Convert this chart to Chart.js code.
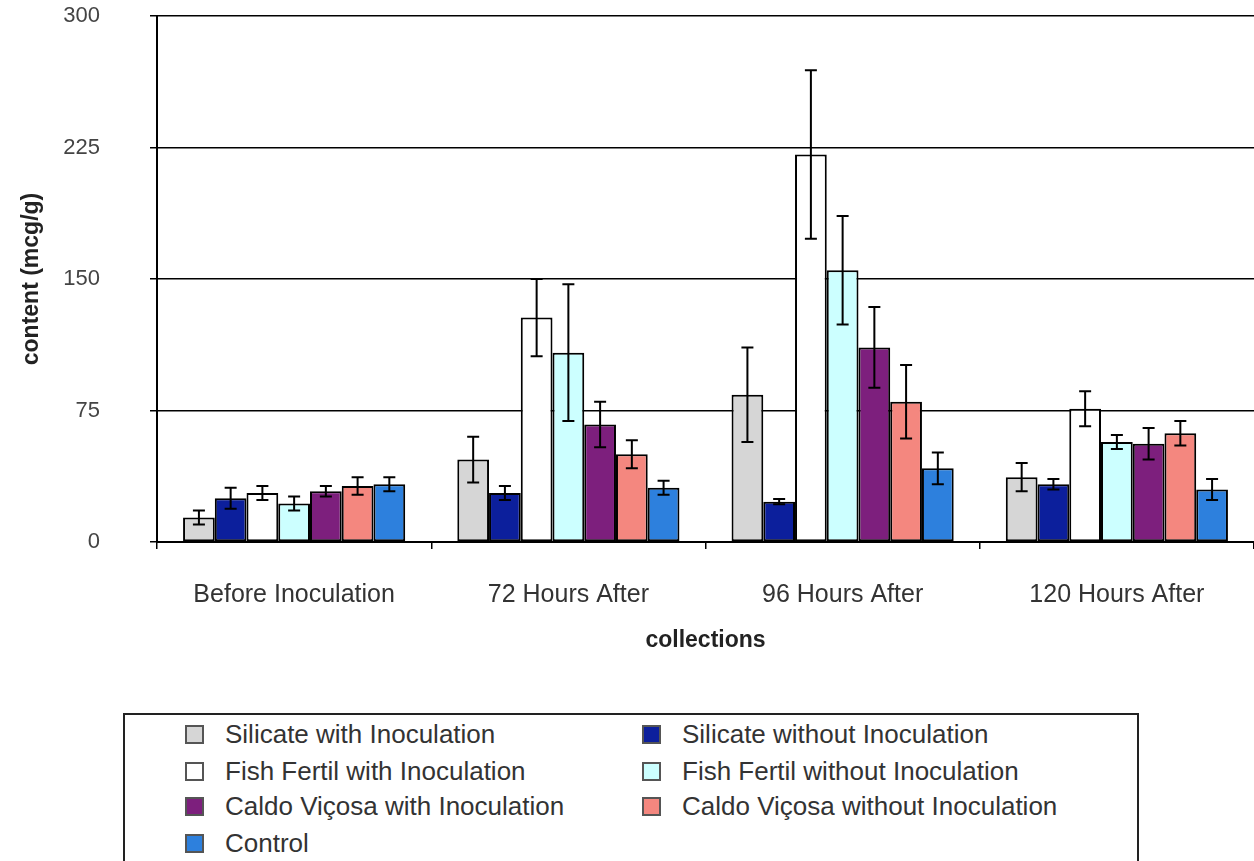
<!DOCTYPE html>
<html>
<head>
<meta charset="utf-8">
<script src="https://cdn.jsdelivr.net/npm/chart.js@4"></script>
<style>
  html, body { margin: 0; padding: 0; background: #fff; }
  body { width: 1254px; height: 861px; position: relative; overflow: hidden; font-family: "Liberation Sans", Arial, sans-serif; }
  #wrap { position: absolute; left: 0; top: 0; width: 1254px; height: 700px; }
  #legend { position: absolute; left: 123px; top: 713px; width: 1012px; height: 170px; border: 2px solid #222; background: #fff; }
  .item { position: absolute; height: 20px; }
  .item span.box { position: absolute; left: 0; top: 0; width: 15px; height: 15px; border: 2px solid #555; }
  .item span.txt { position: absolute; top: -6px; white-space: nowrap; font-size: 26px; color: #333; line-height: 30px; }
</style>
</head>
<body>
<div id="wrap"><canvas id="chart"></canvas></div>
<div id="legend"></div>
<script>
// --- data ---
const collections = ['Before Inoculation', '72 Hours After', '96 Hours After', '120 Hours After'];
const seriesNames = [
    'Silicate with Inoculation', 'Silicate without Inoculation',
    'Fish Fertil with Inoculation', 'Fish Fertil without Inoculation',
    'Caldo Viçosa with Inoculation', 'Caldo Viçosa without Inoculation',
    'Control'
];
const silicateWith = [14, 47, 84, 37];
const silicateWithout = [25, 28, 23, 33];
const fishWith = [28, 128, 221, 76];
const fishWithout = [22, 108, 155, 57];
const caldoWith = [29, 67, 111, 56];
const caldoWithout = [32, 50, 80, 62];
const control = [33, 31, 42, 30];

// standard errors (half length of each bar)
const silicateWithErr = [4, 13, 27, 8];
const silicateWithoutErr = [6, 4, 1.5, 3];
const fishWithErr = [4, 22, 48, 10];
const fishWithoutErr = [4, 39, 31, 4];
const caldoWithErr = [3, 13, 23, 9];
const caldoWithoutErr = [5, 8, 21, 7];
const controlErr = [4, 4, 9, 6];

const yTicks = [0, 75, 150, 225, 300];

const seriesValues = [silicateWith, silicateWithout, fishWith, fishWithout, caldoWith, caldoWithout, control];
const seriesErrors = [silicateWithErr, silicateWithoutErr, fishWithErr, fishWithoutErr, caldoWithErr, caldoWithoutErr, controlErr];
const seriesColors = ['#d6d6d6', '#0c1f9c', '#ffffff', '#ccffff', '#7d1f7d', '#f4877f', '#2d80dd'];

const datasets = seriesNames.map((name, i) => ({
    label: name,
    data: seriesValues[i],
    errors: seriesErrors[i],
    backgroundColor: seriesColors[i],
    borderColor: '#000',
    borderWidth: 2,
    borderSkipped: false
}));

// --- error bars drawn through the y scale ---
const errorBars = {
    id: 'errorBars',
    afterDatasetsDraw(chart) {
        const ctx = chart.ctx;
        const y = chart.scales.y;
        ctx.save();
        ctx.strokeStyle = '#000';
        ctx.lineWidth = 2;
        chart.data.datasets.forEach((ds, i) => {
            const meta = chart.getDatasetMeta(i);
            meta.data.forEach((bar, j) => {
                const v = ds.data[j];
                const e = ds.errors[j];
                const top = y.getPixelForValue(v + e);
                const bottom = y.getPixelForValue(v - e);
                const cap = 6;
                ctx.beginPath();
                ctx.moveTo(bar.x, top);
                ctx.lineTo(bar.x, bottom);
                ctx.moveTo(bar.x - cap, top);
                ctx.lineTo(bar.x + cap, top);
                ctx.moveTo(bar.x - cap, bottom);
                ctx.lineTo(bar.x + cap, bottom);
                ctx.stroke();
            });
        });
        ctx.restore();
    }
};

new Chart(document.getElementById('chart'), {
    type: 'bar',
    data: { labels: collections, datasets: datasets },
    options: {
        responsive: true,
        maintainAspectRatio: false,
        animation: false,
        layout: { padding: { top: 16, right: 0, left: 0, bottom: 0 } },
        datasets: { bar: { categoryPercentage: 0.81, barPercentage: 1.0 } },
        plugins: { legend: { display: false }, tooltip: { enabled: false } },
        scales: {
            x: {
                grid: { drawOnChartArea: false, drawTicks: true, tickLength: 7, color: '#000', lineWidth: 1.5 },
                border: { display: true, color: '#000', width: 2 },
                ticks: { color: '#333', padding: 31, maxRotation: 0, font: { family: 'Liberation Sans', size: 25 } },
                title: { display: true, text: 'collections', color: '#222', padding: { top: 0, bottom: 46 },
                         font: { family: 'Liberation Sans', size: 23, weight: 'bold' } },
                afterFit(scale) { scale.height = 158; }
            },
            y: {
                min: 0,
                max: 300,
                afterBuildTicks(scale) { scale.ticks = yTicks.map(v => ({ value: v })); },
                grid: { color: '#000', lineWidth: 1.5, tickLength: 7 },
                border: { display: true, color: '#000', width: 2 },
                ticks: { color: '#444', padding: 50, font: { family: 'Liberation Sans', size: 22 } },
                title: { display: true, text: 'content (mcg/g)', color: '#222', padding: { top: 18, bottom: 0 },
                         font: { family: 'Liberation Sans', size: 23, weight: 'bold' } },
                afterFit(scale) {
                    scale.width = 157;
                    scale.paddingTop = 12;
                    scale.paddingBottom = 12;
                }
            }
        }
    },
    plugins: [errorBars]
});

// --- legend (two columns, row-major like the original) ---
const legend = document.getElementById('legend');
const colLeft = [60, 517];
const rowTop = [10, 47, 82, 119];
seriesNames.forEach((name, i) => {
    const item = document.createElement('div');
    item.className = 'item';
    item.style.left = colLeft[i % 2] + 'px';
    item.style.top = rowTop[Math.floor(i / 2)] + 'px';
    const box = document.createElement('span');
    box.className = 'box';
    box.style.background = seriesColors[i];
    const txt = document.createElement('span');
    txt.className = 'txt';
    txt.style.left = '40px';
    txt.textContent = name;
    item.appendChild(box);
    item.appendChild(txt);
    legend.appendChild(item);
});
</script>
</body>
</html>
